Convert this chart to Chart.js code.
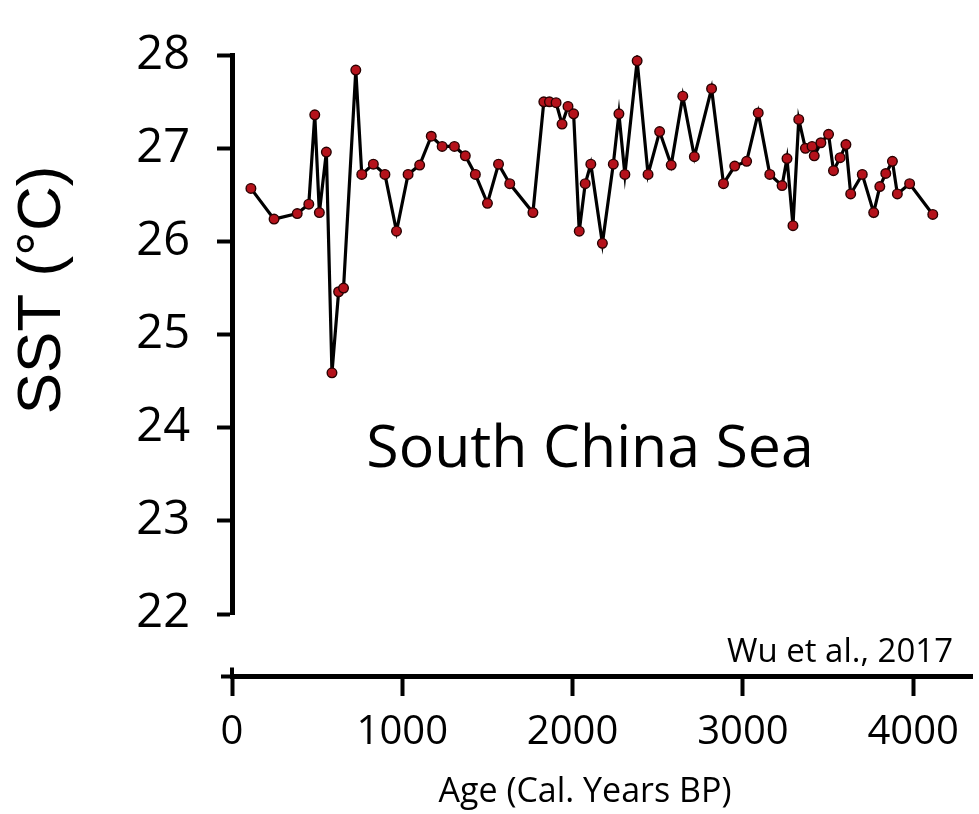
<!DOCTYPE html>
<html>
<head>
<meta charset="utf-8">
<script src="https://cdn.jsdelivr.net/npm/chart.js@4.4.1/dist/chart.umd.min.js"></script>
<style>
  html, body { margin: 0; padding: 0; background: #fff; }
  canvas { display: block; }
</style>
</head>
<body>
<canvas id="sstChart" width="979" height="814"></canvas>
<script>
// age in cal. years BP, SST in °C
const ages = [111, 247, 383, 451, 486, 513, 554, 587, 626, 655, 727, 762, 830, 898, 966, 1034,
  1102, 1170, 1234, 1306, 1370, 1429, 1500, 1565, 1631, 1767, 1831, 1864, 1903, 1938, 1973,
  2006, 2039, 2074, 2107, 2175, 2239, 2272, 2307, 2379, 2443, 2511, 2579, 2647, 2715, 2816,
  2886, 2952, 3022, 3090, 3158, 3230, 3259, 3294, 3328, 3367, 3406, 3419, 3458, 3503, 3532,
  3571, 3605, 3633, 3701, 3768, 3804, 3839, 3878, 3907, 3979, 4115];
const sst = [26.57, 26.24, 26.30, 26.40, 27.36, 26.31, 26.96, 24.59, 25.46, 25.50, 27.84, 26.72,
  26.83, 26.72, 26.11, 26.72, 26.82, 27.13, 27.02, 27.02, 26.92, 26.72, 26.41, 26.83, 26.62,
  26.31, 27.50, 27.50, 27.49, 27.26, 27.45, 27.37, 26.11, 26.62, 26.83, 25.98, 26.83, 27.37,
  26.72, 27.94, 26.72, 27.18, 26.82, 27.56, 26.91, 27.64, 26.62, 26.81, 26.86, 27.38, 26.72,
  26.60, 26.89, 26.17, 27.31, 27.00, 27.02, 26.92, 27.06, 27.15, 26.76, 26.90, 27.04, 26.51,
  26.72, 26.31, 26.59, 26.73, 26.86, 26.51, 26.62, 26.29];
const xTicks = [0, 1000, 2000, 3000, 4000];
const yTicks = [22, 23, 24, 25, 26, 27, 28];

const xAxisAt = 21.33; // the x axis sits a bit below the 22 tick

const points = ages.map((a, i) => ({ x: a, y: sst[i] }));

// titles and notes drawn as text on the canvas
const textLabels = {
  id: 'textLabels',
  afterDraw(chart) {
    const ctx = chart.ctx;
    const xs = chart.scales.x, ys = chart.scales.y;
    const axisY = ys.getPixelForValue(xAxisAt);
    const x0 = xs.getPixelForValue(0);

    ctx.save();
    // little stub left of 0 and the upward tick at 0
    ctx.strokeStyle = '#000';
    ctx.lineWidth = 4;
    ctx.beginPath();
    ctx.moveTo(x0 - 11, axisY);
    ctx.lineTo(x0, axisY);
    ctx.moveTo(x0, axisY - 9);
    ctx.lineTo(x0, axisY);
    ctx.stroke();

    ctx.fillStyle = '#000';
    ctx.textAlign = 'center';
    ctx.textBaseline = 'alphabetic';

    ctx.font = '59px "Open Sans"';
    ctx.fillText('South China Sea', 590, 467);

    ctx.font = '33px "Open Sans"';
    ctx.fillText('Wu et al., 2017', 840, 662);

    ctx.font = '34px "Open Sans"';
    ctx.fillText('Age (Cal. Years BP)', 585, 802);

    ctx.translate(60, 290);
    ctx.rotate(-Math.PI / 2);
    ctx.font = '62px "Liberation Sans"';
    ctx.fillText('SST (°C)', 0, 0);
    ctx.restore();
  }
};

new Chart(document.getElementById('sstChart'), {
  type: 'line',
  data: {
    datasets: [{
      data: points,
      borderColor: '#000',
      borderWidth: 3.2,
      tension: 0,
      pointRadius: 4.8,
      pointBackgroundColor: '#b5121b',
      pointBorderColor: '#2a0000',
      pointBorderWidth: 1.4
    }]
  },
  options: {
    responsive: false,
    animation: false,
    layout: { padding: { top: 40, bottom: 200, left: 0, right: 1 } },
    plugins: { legend: { display: false }, tooltip: { enabled: false } },
    scales: {
      x: {
        type: 'linear',
        position: { y: xAxisAt },
        min: 0,
        max: 4350,
        afterBuildTicks: (s) => { s.ticks = xTicks.map(v => ({ value: v })); },
        grid: { display: true, drawOnChartArea: false, drawTicks: true, tickLength: 17, tickWidth: 4, tickColor: '#000' },
        border: { display: true, color: '#000', width: 5 },
        ticks: { color: '#000', padding: 15, maxRotation: 0, callback: (v) => String(v), font: { family: 'Open Sans', size: 40 } }
      },
      y: {
        min: 22,
        max: 28,
        afterBuildTicks: (s) => { s.ticks = yTicks.map(v => ({ value: v })); },
        afterFit: (s) => { s.width = 232; },
        grid: { display: true, drawOnChartArea: false, drawTicks: true, tickLength: 15, tickWidth: 4, tickColor: '#000' },
        border: { display: true, color: '#000', width: 5 },
        ticks: { color: '#000', padding: 27, font: { family: 'Open Sans', size: 47 } }
      }
    }
  },
  plugins: [textLabels]
});
</script>
</body>
</html>
